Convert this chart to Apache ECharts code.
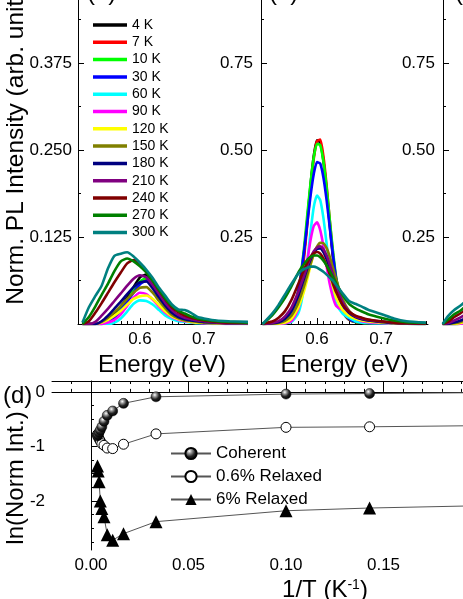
<!DOCTYPE html>
<html>
<head>
<meta charset="utf-8">
<script src="https://cdn.jsdelivr.net/npm/echarts@6/dist/echarts.min.js"></script>
<style>
  html, body { margin: 0; padding: 0; background: #fff; }
  #chart { width: 463px; height: 599px; }
</style>
</head>
<body>
<div id="chart"></div>
<script>
// temperatures of the spectra (legend order)
const tempLabels = ['4 K', '7 K', '10 K', '30 K', '60 K', '90 K', '120 K', '150 K', '180 K', '210 K', '240 K', '270 K', '300 K'];
const tempColors = ['#000000', '#ff0000', '#00ff00', '#0000ff', '#00ffff', '#ff00ff', '#ffff00', '#808000', '#000080', '#800080', '#800000', '#008000', '#008080'];

// panel (a): energy grid (eV) and normalized PL intensity
const energyA = [0.51, 0.52, 0.53, 0.54, 0.55, 0.56, 0.57, 0.58, 0.59, 0.60, 0.61, 0.62, 0.63, 0.64, 0.65, 0.66, 0.67, 0.68, 0.69, 0.70, 0.72, 0.74, 0.77];
const a4   = [0, 0, 0, 0.002, 0.006, 0.014, 0.025, 0.038, 0.053, 0.067, 0.071, 0.061, 0.045, 0.030, 0.019, 0.011, 0.007, 0.005, 0.003, 0.002, 0.001, 0.001, 0.001];
const a7   = [0, 0, 0, 0, 0.003, 0.010, 0.020, 0.033, 0.047, 0.059, 0.063, 0.055, 0.041, 0.027, 0.017, 0.010, 0.006, 0.004, 0.003, 0.002, 0.001, 0.001, 0.001];
const a10  = [0, 0, 0, 0, 0.003, 0.010, 0.021, 0.034, 0.048, 0.061, 0.066, 0.057, 0.042, 0.028, 0.017, 0.010, 0.006, 0.004, 0.003, 0.002, 0.001, 0.001, 0.001];
const a30  = [0, 0, 0, 0, 0.003, 0.010, 0.020, 0.032, 0.045, 0.057, 0.062, 0.054, 0.040, 0.027, 0.017, 0.010, 0.006, 0.004, 0.003, 0.002, 0.001, 0.002, 0.001];
const a60  = [0, 0, 0, 0, 0, 0.002, 0.008, 0.018, 0.029, 0.034, 0.033, 0.028, 0.020, 0.012, 0.007, 0.004, 0.003, 0.002, 0.001, 0.001, 0, 0, 0];
const a90  = [0, 0, 0, 0, 0.002, 0.006, 0.014, 0.026, 0.038, 0.045, 0.043, 0.035, 0.025, 0.016, 0.010, 0.006, 0.004, 0.003, 0.002, 0.001, 0.001, 0, 0];
const a120 = [0, 0, 0, 0.002, 0.006, 0.012, 0.019, 0.028, 0.036, 0.040, 0.041, 0.036, 0.027, 0.018, 0.011, 0.007, 0.005, 0.003, 0.002, 0.002, 0.001, 0.001, 0];
const a150 = [0, 0, 0, 0.003, 0.009, 0.017, 0.026, 0.036, 0.045, 0.052, 0.053, 0.045, 0.033, 0.022, 0.013, 0.008, 0.005, 0.004, 0.003, 0.002, 0.001, 0.001, 0.001];
const a180 = [0, 0, 0, 0.004, 0.012, 0.022, 0.032, 0.043, 0.053, 0.060, 0.061, 0.051, 0.038, 0.026, 0.016, 0.010, 0.007, 0.005, 0.004, 0.003, 0.002, 0.001, 0.001];
const a210 = [0, 0, 0.003, 0.012, 0.022, 0.033, 0.044, 0.055, 0.065, 0.070, 0.067, 0.056, 0.043, 0.030, 0.020, 0.013, 0.009, 0.007, 0.005, 0.004, 0.002, 0.001, 0.001];
const a240 = [0, 0.004, 0.016, 0.030, 0.045, 0.060, 0.074, 0.087, 0.092, 0.086, 0.076, 0.062, 0.048, 0.035, 0.024, 0.017, 0.012, 0.009, 0.007, 0.005, 0.003, 0.002, 0.002];
const a270 = [0, 0.010, 0.025, 0.042, 0.058, 0.076, 0.090, 0.094, 0.090, 0.083, 0.074, 0.062, 0.049, 0.036, 0.026, 0.019, 0.015, 0.011, 0.008, 0.006, 0.004, 0.003, 0.002];
const a300 = [0.002, 0.024, 0.040, 0.055, 0.080, 0.098, 0.101, 0.103, 0.097, 0.088, 0.078, 0.066, 0.052, 0.040, 0.028, 0.021, 0.020, 0.016, 0.010, 0.008, 0.005, 0.004, 0.003];

// panel (b)
const energyB = [0.515, 0.53, 0.54, 0.55, 0.56, 0.57, 0.575, 0.58, 0.585, 0.59, 0.595, 0.60, 0.605, 0.61, 0.615, 0.62, 0.625, 0.63, 0.64, 0.65, 0.66, 0.67, 0.68, 0.70, 0.72, 0.74, 0.77];
const b4   = [0, 0.001, 0.002, 0.006, 0.020, 0.072, 0.128, 0.207, 0.303, 0.402, 0.484, 0.528, 0.521, 0.469, 0.383, 0.282, 0.189, 0.115, 0.035, 0.012, 0.006, 0.004, 0.003, 0.002, 0.001, 0.001, 0];
const b7   = [0, 0.001, 0.002, 0.005, 0.018, 0.066, 0.119, 0.195, 0.290, 0.390, 0.476, 0.525, 0.530, 0.482, 0.398, 0.296, 0.200, 0.123, 0.038, 0.013, 0.006, 0.004, 0.003, 0.002, 0.001, 0.001, 0];
const b10  = [0, 0.001, 0.002, 0.006, 0.025, 0.089, 0.146, 0.224, 0.317, 0.407, 0.480, 0.518, 0.514, 0.467, 0.392, 0.298, 0.209, 0.134, 0.043, 0.014, 0.006, 0.004, 0.003, 0.002, 0.001, 0.001, 0];
const b30  = [0, 0.001, 0.002, 0.007, 0.027, 0.088, 0.143, 0.212, 0.292, 0.370, 0.432, 0.465, 0.461, 0.421, 0.356, 0.276, 0.197, 0.130, 0.046, 0.015, 0.007, 0.005, 0.003, 0.002, 0.001, 0.001, 0];
const b60  = [0, 0, 0, 0.002, 0.006, 0.028, 0.058, 0.111, 0.181, 0.266, 0.337, 0.369, 0.356, 0.305, 0.231, 0.157, 0.096, 0.058, 0.030, 0.018, 0.008, 0.004, 0.003, 0.002, 0.001, 0, 0];
const b90  = [0, 0, 0, 0.002, 0.008, 0.040, 0.074, 0.124, 0.183, 0.242, 0.282, 0.292, 0.270, 0.224, 0.166, 0.114, 0.076, 0.052, 0.040, 0.028, 0.016, 0.008, 0.005, 0.003, 0.002, 0.001, 0.001];
const b120 = [0, 0, 0.001, 0.004, 0.015, 0.045, 0.068, 0.096, 0.130, 0.169, 0.201, 0.221, 0.224, 0.209, 0.180, 0.144, 0.107, 0.075, 0.040, 0.024, 0.015, 0.010, 0.007, 0.004, 0.002, 0.001, 0.001];
const b150 = [0, 0.001, 0.003, 0.009, 0.024, 0.057, 0.082, 0.110, 0.142, 0.173, 0.201, 0.222, 0.233, 0.232, 0.218, 0.193, 0.161, 0.128, 0.072, 0.038, 0.022, 0.014, 0.010, 0.006, 0.003, 0.002, 0.001];
const b180 = [0, 0.002, 0.005, 0.015, 0.038, 0.078, 0.104, 0.132, 0.161, 0.185, 0.205, 0.216, 0.217, 0.207, 0.187, 0.162, 0.132, 0.102, 0.058, 0.032, 0.020, 0.014, 0.010, 0.006, 0.003, 0.002, 0.001];
const b210 = [0, 0.003, 0.008, 0.022, 0.047, 0.089, 0.114, 0.140, 0.167, 0.191, 0.209, 0.220, 0.223, 0.215, 0.197, 0.171, 0.142, 0.112, 0.063, 0.036, 0.022, 0.016, 0.012, 0.007, 0.004, 0.002, 0.001];
const b240 = [0.001, 0.007, 0.018, 0.037, 0.069, 0.112, 0.135, 0.157, 0.177, 0.193, 0.203, 0.207, 0.202, 0.188, 0.168, 0.142, 0.115, 0.091, 0.055, 0.035, 0.024, 0.018, 0.013, 0.008, 0.004, 0.002, 0.001];
const b270 = [0, 0.025, 0.048, 0.075, 0.108, 0.145, 0.160, 0.173, 0.185, 0.193, 0.197, 0.197, 0.192, 0.182, 0.168, 0.152, 0.135, 0.117, 0.083, 0.058, 0.045, 0.036, 0.028, 0.018, 0.010, 0.005, 0.003];
const b300 = [0, 0.030, 0.055, 0.085, 0.115, 0.143, 0.152, 0.158, 0.162, 0.165, 0.165, 0.162, 0.156, 0.150, 0.142, 0.133, 0.124, 0.112, 0.088, 0.066, 0.058, 0.050, 0.041, 0.029, 0.016, 0.008, 0.004];

// panel (c): only its left edge is in the picture
const energyC = [0.512, 0.52, 0.53, 0.54, 0.55, 0.56];
const c4   = [0, 0, 0, 0.001, 0.004, 0.010];
const c7   = [0, 0, 0, 0.001, 0.004, 0.010];
const c10  = [0, 0, 0, 0.001, 0.004, 0.010];
const c30  = [0, 0, 0, 0.002, 0.006, 0.012];
const c60  = [0, 0, 0, 0.001, 0.003, 0.008];
const c90  = [0, 0, 0, 0.001, 0.004, 0.009];
const c120 = [0, 0, 0, 0.003, 0.008, 0.016];
const c150 = [0, 0, 0.002, 0.006, 0.013, 0.024];
const c180 = [0, 0, 0.004, 0.010, 0.019, 0.032];
const c210 = [0, 0.002, 0.010, 0.019, 0.030, 0.045];
const c240 = [0, 0.006, 0.020, 0.031, 0.045, 0.062];
const c270 = [0, 0.012, 0.028, 0.039, 0.055, 0.075];
const c300 = [0, 0.022, 0.040, 0.053, 0.070, 0.090];

// panel (d): ln of normalized integrated intensity vs 1/T
const tempsD = [300, 270, 240, 210, 180, 150, 120, 90, 60, 30, 10, 7, 4];
const coherent = [-0.81, -0.78, -0.74, -0.70, -0.64, -0.54, -0.43, -0.35, -0.21, -0.09, -0.04, -0.03, 0];
const relaxed06 = [-0.78, -0.82, -0.86, -0.90, -0.95, -0.98, -1.03, -1.04, -0.96, -0.77, -0.65, -0.64, -0.60];
const relaxed6 = [-1.36, -1.45, -1.65, -2.00, -2.14, -2.29, -2.62, -2.72, -2.60, -2.38, -2.18, -2.13, -2.05];

// tick labels
const topMajorX = [0.6, 0.7];
const aMajorY = [0.125, 0.25, 0.375];
const bMajorY = [0.25, 0.5, 0.75];
const dMajorX = [0, 0.05, 0.1, 0.15, 0.2, 0.25];
const dMajorY = [-2, -1, 0];

const rowsA = [a4, a7, a10, a30, a60, a90, a120, a150, a180, a210, a240, a270, a300];
const rowsB = [b4, b7, b10, b30, b60, b90, b120, b150, b180, b210, b240, b270, b300];
const rowsC = [c4, c7, c10, c30, c60, c90, c120, c150, c180, c210, c240, c270, c300];

// minor tick positions
const topMinorX = [];
for (let i = 51; i <= 77; i++) if (i % 10 !== 0) topMinorX.push(i / 100);
const dMinorX = [];
for (let i = -1; i <= 25; i++) if (i % 5 !== 0) dMinorX.push(i / 100);
const dMinorY = [-2.75, -2.5, -2.25, -1.75, -1.5, -1.25, -0.75, -0.5, -0.25];
const aMinorY = [0.0625, 0.1875, 0.3125, 0.4375];
const bMinorY = [0.125, 0.375, 0.625, 0.875];

const FONT = '"Liberation Sans", Arial, sans-serif';
const black = '#000';

function axis(gridIndex, min, max, o) {
    return {
        gridIndex, type: 'value', min, max,
        position: o.position,
        axisLine: { show: o.line !== false, lineStyle: { color: black, width: 1 } },
        axisTick: { show: true, inside: true, length: o.tickLen, customValues: o.ticks, lineStyle: { color: black, width: 1 } },
        axisLabel: o.labels
            ? { show: true, customValues: o.labels, formatter: o.fmt, fontSize: 17, fontFamily: FONT, color: black, margin: o.margin || 7 }
            : { show: false },
        splitLine: { show: false },
        name: o.name, nameLocation: 'middle', nameGap: o.nameGap,
        nameTextStyle: o.nameStyle
    };
}

function spectra(energy, rows, xi, yi) {
    return rows.map((vals, i) => ({
        name: tempLabels[i],
        type: 'line',
        xAxisIndex: xi, yAxisIndex: yi,
        data: vals.map((v, k) => [energy[k], v]),
        symbol: 'none', showSymbol: false,
        smooth: 0.2,
        lineStyle: { width: 2.6, color: tempColors[i] },
        itemStyle: { color: tempColors[i] }
    }));
}

const invT = tempsD.map(t => 1 / t);
const sphere = {
    type: 'radial', x: 0.38, y: 0.32, r: 0.7,
    colorStops: [{ offset: 0, color: '#ffffff' }, { offset: 0.25, color: '#999' }, { offset: 0.6, color: '#222' }, { offset: 1, color: '#000' }]
};

const energyName = { fontSize: 24, fontFamily: FONT, color: black };
const gridBase = { outerBoundsMode: 'none', containLabel: false };

const option = {
    animation: false,
    textStyle: { fontFamily: FONT },
    grid: [
        { ...gridBase, left: 78, top: 0, width: 168, height: 324 },
        { ...gridBase, left: 261, top: 0, width: 167, height: 324 },
        { ...gridBase, left: 443, top: 0, width: 167, height: 324 },
        { ...gridBase, left: 52, top: 381, width: 546, height: 169 }
    ],
    xAxis: [
        axis(0, 0.503, 0.766, { position: 'bottom', tickLen: 6, ticks: topMajorX, labels: topMajorX, fmt: v => v.toFixed(1), name: 'Energy (eV)', nameGap: 27, nameStyle: energyName }),
        axis(0, 0.503, 0.766, { position: 'bottom', tickLen: 3, ticks: topMinorX, line: false }),
        axis(1, 0.5125, 0.7734, { position: 'bottom', tickLen: 6, ticks: topMajorX, labels: topMajorX, fmt: v => v.toFixed(1), name: 'Energy (eV)', nameGap: 27, nameStyle: energyName }),
        axis(1, 0.5125, 0.7734, { position: 'bottom', tickLen: 3, ticks: topMinorX, line: false }),
        axis(2, 0.5125, 0.7734, { position: 'bottom', tickLen: 6, ticks: topMajorX, labels: topMajorX, fmt: v => v.toFixed(1), name: 'Energy (eV)', nameGap: 27, nameStyle: energyName }),
        axis(2, 0.5125, 0.7734, { position: 'bottom', tickLen: 3, ticks: topMinorX, line: false }),
        axis(3, -0.02, 0.26, {
            position: 'bottom', tickLen: 6, ticks: dMajorX, labels: dMajorX, fmt: v => v.toFixed(2),
            name: '1/T (K{sup|-1})', nameGap: 28,
            nameStyle: { fontSize: 24, fontFamily: FONT, color: black, rich: { sup: { fontSize: 14, fontFamily: FONT, color: black, verticalAlign: 'top', padding: [0, 0, 10, 0] } } }
        }),
        axis(3, -0.02, 0.26, { position: 'bottom', tickLen: 3, ticks: dMinorX, line: false }),
        axis(3, -0.02, 0.26, { position: 'top', tickLen: 6, ticks: dMajorX }),
        axis(3, -0.02, 0.26, { position: 'top', tickLen: 3, ticks: dMinorX, line: false })
    ],
    yAxis: [
        axis(0, 0, 0.4655, { position: 'left', tickLen: 6, ticks: aMajorY, labels: aMajorY, fmt: v => v.toFixed(3), margin: 6 }),
        axis(0, 0, 0.4655, { position: 'left', tickLen: 3, ticks: aMinorY, line: false }),
        axis(1, 0, 0.931, { position: 'left', tickLen: 6, ticks: bMajorY, labels: bMajorY, fmt: v => v.toFixed(2), margin: 8 }),
        axis(1, 0, 0.931, { position: 'left', tickLen: 3, ticks: bMinorY, line: false }),
        axis(2, 0, 0.931, { position: 'left', tickLen: 6, ticks: bMajorY, labels: bMajorY, fmt: v => v.toFixed(2), margin: 8 }),
        axis(2, 0, 0.931, { position: 'left', tickLen: 3, ticks: bMinorY, line: false }),
        axis(3, -2.9, 0.2, { position: 'left', tickLen: 6, ticks: dMajorY, labels: dMajorY, fmt: v => String(v), margin: 7 }),
        axis(3, -2.9, 0.2, { position: 'left', tickLen: 3, ticks: dMinorY, line: false })
    ],
    legend: [
        {
            data: tempLabels,
            orient: 'vertical', left: 93, top: 18, padding: 0,
            icon: 'rect',
            itemWidth: 34, itemHeight: 3.5, itemGap: 3.3,
            textStyle: { fontSize: 14, lineHeight: 14, fontFamily: FONT, color: black },
            selectedMode: false
        },
        {
            data: ['Coherent', '0.6% Relaxed', '6% Relaxed'],
            orient: 'vertical', left: 170, top: 445, padding: 0,
            itemWidth: 40, itemHeight: 14, itemGap: 6,
            textStyle: { fontSize: 17, lineHeight: 16, fontFamily: FONT, color: black },
            selectedMode: false
        }
    ],
    graphic: [
        { type: 'text', x: 16, y: 142, rotation: Math.PI / 2,
          style: { text: 'Norm. PL Intensity (arb. units)', font: '24.5px ' + FONT, fill: black, textAlign: 'center', textVerticalAlign: 'middle', align: 'center', verticalAlign: 'middle' } },
        { type: 'text', x: 16, y: 478, rotation: Math.PI / 2,
          style: { text: 'ln(Norm Int.)', font: '24px ' + FONT, fill: black, textAlign: 'center', textVerticalAlign: 'middle', align: 'center', verticalAlign: 'middle' } },
        { type: 'text', x: 3, y: 396,
          style: { text: '(d)', font: '24px ' + FONT, fill: black, textAlign: 'left', textVerticalAlign: 'middle', align: 'left', verticalAlign: 'middle' } },
        { type: 'text', x: 87, y: 5,
          style: { text: '(a)', font: '24px ' + FONT, fill: black, textAlign: 'left', textVerticalAlign: 'bottom', align: 'left', verticalAlign: 'bottom' } },
        { type: 'text', x: 269, y: 5,
          style: { text: '(b)', font: '24px ' + FONT, fill: black, textAlign: 'left', textVerticalAlign: 'bottom', align: 'left', verticalAlign: 'bottom' } },
        { type: 'text', x: 455, y: 5,
          style: { text: '(c)', font: '24px ' + FONT, fill: black, textAlign: 'left', textVerticalAlign: 'bottom', align: 'left', verticalAlign: 'bottom' } }
    ],
    series: [
        ...spectra(energyA, rowsA, 0, 0),
        ...spectra(energyB, rowsB, 2, 2),
        ...spectra(energyC, rowsC, 4, 4),
        {
            name: 'Coherent', type: 'line', xAxisIndex: 6, yAxisIndex: 6,
            data: invT.map((x, i) => [x, coherent[i]]),
            symbol: 'circle', symbolSize: 10,
            lineStyle: { color: '#555', width: 1 },
            itemStyle: { color: sphere, borderColor: '#000', borderWidth: 0.5 },
            z: 5
        },
        {
            name: '0.6% Relaxed', type: 'line', xAxisIndex: 6, yAxisIndex: 6,
            data: invT.map((x, i) => [x, relaxed06[i]]),
            symbol: 'circle', symbolSize: 10,
            lineStyle: { color: '#555', width: 1 },
            itemStyle: { color: '#fff', borderColor: '#000', borderWidth: 1 },
            z: 4
        },
        {
            name: '6% Relaxed', type: 'line', xAxisIndex: 6, yAxisIndex: 6,
            data: invT.map((x, i) => [x, relaxed6[i]]),
            symbol: 'triangle', symbolSize: 13,
            lineStyle: { color: '#555', width: 1 },
            itemStyle: { color: '#000' },
            z: 4
        }
    ]
};

const chart = echarts.init(document.getElementById('chart'), null, { renderer: 'canvas' });
chart.setOption(option);
</script>
</body>
</html>
